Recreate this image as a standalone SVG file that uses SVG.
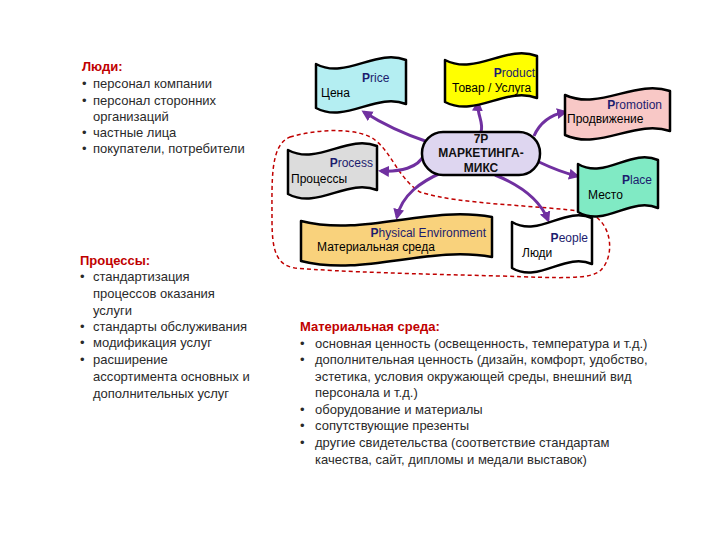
<svg xmlns="http://www.w3.org/2000/svg" width="720" height="540" viewBox="0 0 720 540">
<defs>
<marker id="ah" markerUnits="userSpaceOnUse" markerWidth="12" markerHeight="12" refX="8" refY="5.5" orient="auto">
<path d="M0,0 L11,5.5 L0,11 Z" fill="#7030A0"/>
</marker>
<style>
.flag{stroke:#000;stroke-width:2.5;stroke-linejoin:round}
.en{font-family:"Liberation Sans",Arial,sans-serif;font-size:12px;fill:#1c1c6e}
.en tspan.b{font-weight:bold}
.ru{font-family:"Liberation Sans",Arial,sans-serif;font-size:12px;fill:#000}
.arr{fill:none;stroke:#7030A0;stroke-width:3;marker-end:url(#ah)}
.txt{font-family:"Liberation Sans",Arial,sans-serif;font-size:13px;fill:#2a2a2a}
.hd{font-family:"Liberation Sans",Arial,sans-serif;font-size:13px;font-weight:bold;fill:#C00000}
.ctr{font-family:"Liberation Sans",Arial,sans-serif;font-size:12px;font-weight:bold;fill:#111;text-anchor:middle}
</style>
</defs>
<rect width="720" height="540" fill="#fff"/>

<g id="connectors">
<path d="M290,137 C320,128 360,128 375,140 C392,153 398,178 420,192 C460,205 540,205 585,212 C612,218 616,255 601,270 C591,280 560,278 500,276 C420,274 340,272 295,268 C276,265 272,250 272,220 C272,180 270,145 290,137 Z" fill="none" stroke="#C00000" stroke-width="1.5" stroke-dasharray="4 3"/>
<path class="arr" d="M428,142 Q392,130 364,112"/>
<path class="arr" d="M481,132 C484,122 477,116 478,103"/>
<path class="arr" d="M534,136 C540,122 550,115 565,112"/>
<path class="arr" d="M539,162 Q560,172 577,176"/>
<path class="arr" d="M495,175 C520,185 540,200 548,220"/>
<path class="arr" d="M443,172 C420,182 402,195 397,217"/>
<path class="arr" d="M424,155 C418,168 400,172 381,171"/>
</g>

<g id="price">
<path class="flag" fill="#B4EEF2" d="M316,64 C346,80 376,48 406,60 L406,104 C376,92 346,124 316,108 Z"/>
<text class="en" x="362" y="82"><tspan class="b">P</tspan>rice</text>
<text class="ru" x="321" y="97">Цена</text>
</g>

<g id="product">
<path class="flag" fill="#FFFF00" d="M445,60 C476,76 506,44 537,56 L537,98 C506,86 476,118 445,102 Z"/>
<text class="en" x="535" y="77" text-anchor="end"><tspan class="b">P</tspan>roduct</text>
<text class="ru" x="452" y="92">Товар / Услуга</text>
</g>

<g id="promotion">
<path class="flag" fill="#F8C8C6" d="M565,95 C600,111 635,79 670,91 L670,131 C635,119 600,151 565,135 Z"/>
<text class="en" x="662" y="109" text-anchor="end"><tspan class="b">P</tspan>romotion</text>
<text class="ru" x="567" y="123">Продвижение</text>
</g>

<g id="center">
<rect x="422" y="132" width="118" height="43" rx="21" ry="21" fill="#DED6F0" stroke="#000" stroke-width="2.5"/>
<text class="ctr" x="481" y="143">7P</text>
<text class="ctr" x="481" y="157">МАРКЕТИНГА-</text>
<text class="ctr" x="481" y="172">МИКС</text>
</g>

<g id="process">
<path class="flag" fill="#DCDCDC" d="M288,150 C318,166 347,134 377,146 L377,190 C347,178 318,210 288,194 Z"/>
<text class="en" x="373" y="167" text-anchor="end"><tspan class="b">P</tspan>rocess</text>
<text class="ru" x="291" y="183">Процессы</text>
</g>

<g id="place">
<path class="flag" fill="#80EAC4" d="M578,164 C605,180 631,148 658,160 L658,208 C631,196 605,228 578,212 Z"/>
<text class="en" x="652" y="184" text-anchor="end"><tspan class="b">P</tspan>lace</text>
<text class="ru" x="588" y="199">Место</text>
</g>

<g id="physical">
<path class="flag" fill="#F9D27C" d="M301,221 C364,237 428,205 492,217 L492,257 C428,245 364,277 301,261 Z"/>
<text class="en" x="486" y="237" text-anchor="end"><tspan class="b">P</tspan>hysical Environment</text>
<text class="ru" x="317" y="251" textLength="118" lengthAdjust="spacingAndGlyphs">Материальная среда</text>
</g>

<g id="people">
<path class="flag" fill="#FFFFFF" d="M512,222 C539,238 565,206 592,218 L592,264 C565,252 539,284 512,268 Z"/>
<text class="en" x="588" y="242" text-anchor="end"><tspan class="b">P</tspan>eople</text>
<text class="ru" x="522" y="257">Люди</text>
</g>

<g id="text-people">
<text class="hd" x="82" y="71">Люди:</text>
<text class="txt" x="82" y="88">•</text><text class="txt" x="93" y="88">персонал компании</text>
<text class="txt" x="82" y="105">•</text><text class="txt" x="93" y="105">персонал сторонних</text>
<text class="txt" x="93" y="121">организаций</text>
<text class="txt" x="82" y="137">•</text><text class="txt" x="93" y="137">частные лица</text>
<text class="txt" x="82" y="153">•</text><text class="txt" x="93" y="153">покупатели, потребители</text>
</g>

<g id="text-process">
<text class="hd" x="80" y="265">Процессы:</text>
<text class="txt" x="80" y="281">•</text><text class="txt" x="93" y="281">стандартизация</text>
<text class="txt" x="93" y="298">процессов оказания</text>
<text class="txt" x="93" y="315">услуги</text>
<text class="txt" x="80" y="331">•</text><text class="txt" x="93" y="331">стандарты обслуживания</text>
<text class="txt" x="80" y="347">•</text><text class="txt" x="93" y="347">модификация услуг</text>
<text class="txt" x="80" y="364">•</text><text class="txt" x="93" y="364">расширение</text>
<text class="txt" x="93" y="381">ассортимента основных и</text>
<text class="txt" x="93" y="398">дополнительных услуг</text>
</g>

<g id="text-material">
<text class="hd" x="300" y="331">Материальная среда:</text>
<text class="txt" x="300" y="348">•</text><text class="txt" x="315" y="348">основная ценность (освещенность, температура и т.д.)</text>
<text class="txt" x="300" y="364">•</text><text class="txt" x="315" y="364">дополнительная ценность (дизайн, комфорт, удобство,</text>
<text class="txt" x="315" y="381">эстетика, условия окружающей среды, внешний вид</text>
<text class="txt" x="315" y="397">персонала и т.д.)</text>
<text class="txt" x="300" y="414">•</text><text class="txt" x="315" y="414">оборудование и материалы</text>
<text class="txt" x="300" y="430">•</text><text class="txt" x="315" y="430">сопутствующие презенты</text>
<text class="txt" x="300" y="447">•</text><text class="txt" x="315" y="447">другие свидетельства (соответствие стандартам</text>
<text class="txt" x="315" y="464">качества, сайт, дипломы и медали выставок)</text>
</g>
</svg>
